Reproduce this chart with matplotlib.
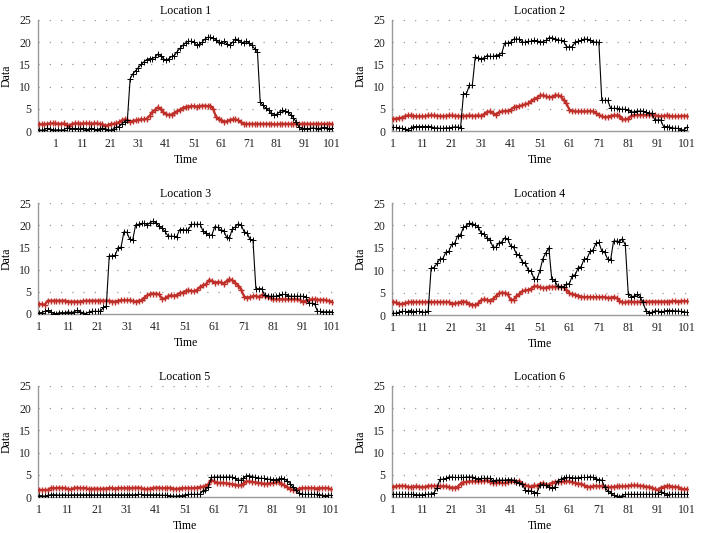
import numpy as np
import matplotlib
matplotlib.use("Agg")
import matplotlib.pyplot as plt

plt.rcParams["font.family"] = ["Liberation Serif", "DejaVu Serif"]

# time axes
time1 = list(range(-5, 102))
time = list(range(1, 102))

# Location 1 (starts a few steps before t=1)
black1 = [0.3, 0.2, 0.3, 0.6, 0.5, 0.3, 0.2, 0.3, 0.2, 0.3,
          0.6, 0.7, 0.5, 0.6, 0.4, 0.5, 0.6, 0.3, 0.4, 0.6,
          0.4, 0.3, 0.5, 0.6, 0.5, 0.3, 0.2, 0.5, 0.8, 1.0,
          1.6, 2.1, 2.5, 11.8, 12.9, 13.6, 14.3, 15.0, 15.6, 16.1,
          16.3, 16.3, 16.6, 17.3, 17.0, 16.3, 15.9, 16.3, 16.8, 17.0,
          17.9, 18.6, 19.3, 19.8, 20.2, 20.2, 20.1, 19.3, 19.5, 20.0,
          20.7, 21.1, 21.1, 21.0, 20.5, 20.0, 19.8, 20.2, 19.6, 19.3,
          20.0, 20.7, 20.6, 20.0, 19.8, 20.2, 19.8, 19.3, 18.5, 17.8,
          6.5, 5.8, 5.2, 4.7, 4.1, 3.5, 3.8, 4.3, 4.7, 4.5,
          4.2, 3.7, 3.0, 2.0, 0.9, 0.5, 0.6, 0.5, 0.6, 0.7,
          0.6, 0.5, 0.7, 0.8, 0.6, 0.5, 0.6]
red1 = [1.5, 1.5, 1.5, 1.6, 1.7, 1.7, 1.7, 1.6, 1.6, 1.7,
        1.3, 1.2, 1.6, 1.7, 1.7, 1.6, 1.7, 1.7, 1.7, 1.6,
        1.7, 1.7, 1.6, 1.5, 1.2, 1.3, 1.6, 1.6, 1.7, 2.0,
        2.4, 2.6, 2.5, 2.1, 2.3, 2.4, 2.5, 2.6, 2.6, 2.8,
        3.4, 4.3, 4.8, 5.3, 4.9, 4.2, 3.8, 3.6, 3.7, 4.1,
        4.5, 4.8, 5.2, 5.4, 5.5, 5.6, 5.6, 5.5, 5.6, 5.7,
        5.7, 5.6, 5.7, 5.0, 3.2, 2.8, 2.4, 2.1, 2.2, 2.5,
        2.6, 2.6, 2.4, 2.0, 1.6, 1.6, 1.6, 1.6, 1.6, 1.6,
        1.6, 1.6, 1.6, 1.6, 1.6, 1.5, 1.5, 1.6, 1.6, 1.6,
        1.6, 1.6, 1.6, 1.6, 1.6, 1.6, 1.6, 1.6, 1.6, 1.6,
        1.6, 1.6, 1.6, 1.6, 1.6, 1.6, 1.6]

black2 = [0.8, 0.8, 0.7, 0.6, 0.5, 0.3, 0.6, 1.0, 1.0, 1.0,
          1.0, 1.0, 1.0, 1.0, 0.7, 0.7, 0.6, 0.6, 0.7, 0.7,
          0.8, 0.9, 0.9, 0.7, 8.4, 8.4, 10.3, 10.3, 16.7, 16.5,
          16.2, 16.5, 17.0, 16.8, 16.8, 17.0, 17.2, 17.5, 19.8, 19.8,
          20.0, 20.7, 20.7, 20.7, 20.0, 20.0, 20.2, 20.2, 20.4, 20.3,
          20.1, 20.1, 20.4, 21.0, 21.0, 20.8, 20.6, 20.4, 20.3, 19.0,
          18.9, 19.0, 20.1, 20.2, 20.4, 20.7, 20.7, 20.4, 20.1, 20.0,
          20.0, 6.9, 6.9, 6.9, 5.1, 5.1, 5.1, 4.9, 4.9, 4.9,
          4.7, 4.3, 4.3, 4.5, 4.5, 4.5, 4.2, 4.0, 4.0, 2.5,
          2.5, 2.5, 1.0, 1.0, 0.9, 0.7, 0.6, 0.6, 0.2, 0.3, 0.9]
red2 = [2.7, 2.8, 2.9, 3.0, 3.3, 3.5, 3.5, 3.4, 3.3, 3.3,
        3.3, 3.3, 3.5, 3.5, 3.5, 3.4, 3.4, 3.3, 3.4, 3.5,
        3.5, 3.4, 3.4, 3.3, 3.4, 3.4, 3.5, 3.4, 3.4, 3.5,
        3.4, 3.8, 4.3, 4.4, 4.0, 3.6, 4.2, 4.4, 4.5, 4.5,
        4.8, 5.3, 5.5, 5.6, 5.8, 6.0, 6.2, 6.8, 7.2, 7.5,
        8.0, 8.0, 7.8, 7.6, 7.7, 8.0, 8.0, 7.8, 7.0, 6.2,
        4.8, 4.5, 4.4, 4.4, 4.4, 4.4, 4.4, 4.5, 4.4, 4.0,
        3.7, 3.3, 3.1, 3.2, 3.4, 3.5, 3.5, 3.4, 2.6, 2.6,
        2.8, 3.4, 3.6, 3.6, 3.6, 3.6, 3.6, 3.6, 3.6, 3.5,
        3.4, 3.3, 3.4, 3.5, 3.4, 3.3, 3.3, 3.3, 3.4, 3.4, 3.4]

black3 = [0.3, 0.3, 0.6, 0.8, 0.5, 0.1, 0.1, 0.3, 0.3, 0.3,
          0.5, 0.3, 0.5, 0.8, 0.5, 0.3, 0.1, 0.4, 0.6, 0.6,
          0.6, 0.6, 1.5, 1.8, 13.1, 13.1, 13.2, 14.9, 15.0, 18.5,
          18.4, 16.8, 16.7, 20.1, 20.2, 20.4, 20.4, 20.1, 20.6, 20.9,
          20.5, 19.8, 19.3, 18.6, 17.6, 17.5, 17.5, 17.4, 19.0, 19.0,
          18.9, 19.0, 20.2, 20.2, 20.2, 20.2, 18.6, 18.3, 17.7, 17.8,
          19.7, 19.5, 18.9, 18.8, 17.3, 17.2, 19.2, 19.6, 20.3, 20.0,
          18.5, 18.3, 16.8, 16.7, 5.7, 5.7, 5.7, 4.2, 4.0, 4.0,
          4.0, 4.0, 4.2, 4.4, 4.4, 4.1, 4.0, 4.0, 4.0, 4.0,
          4.0, 3.9, 2.4, 2.4, 2.3, 0.6, 0.6, 0.5, 0.5, 0.5, 0.5]
red3 = [2.2, 2.2, 2.1, 3.0, 3.0, 3.0, 3.0, 3.0, 3.0, 3.0,
        2.8, 2.8, 2.8, 2.8, 2.8, 2.9, 3.0, 3.0, 3.0, 3.0,
        3.0, 3.0, 3.0, 3.0, 3.0, 2.8, 2.8, 3.0, 3.1, 3.1,
        3.1, 3.1, 2.9, 2.8, 3.0, 3.1, 3.7, 4.2, 4.5, 4.6,
        4.6, 4.4, 3.4, 3.5, 4.0, 4.2, 4.1, 4.3, 4.7, 4.8,
        5.2, 5.3, 5.2, 5.1, 5.5, 6.1, 6.5, 6.7, 7.6, 7.5,
        7.0, 7.2, 7.1, 6.8, 7.4, 7.8, 7.6, 7.0, 6.4, 5.5,
        3.9, 3.7, 3.8, 4.0, 4.1, 3.8, 4.3, 4.0, 3.9, 3.6,
        3.3, 3.3, 3.3, 3.3, 3.3, 3.3, 3.3, 3.3, 3.3, 3.2,
        2.8, 3.0, 3.2, 3.3, 3.3, 3.2, 3.2, 3.2, 3.1, 2.9, 2.8]

black4 = [0.4, 0.4, 0.6, 0.8, 0.8, 0.7, 1.0, 0.7, 0.8, 0.8,
          0.7, 0.6, 0.9, 10.5, 10.6, 11.5, 12.5, 12.6, 14.0, 14.2,
          15.8, 16.0, 17.7, 17.9, 19.6, 19.9, 20.5, 20.4, 20.1, 19.7,
          18.2, 18.0, 17.2, 16.7, 15.2, 15.1, 16.1, 16.3, 17.2, 17.0,
          15.4, 15.1, 13.6, 13.4, 11.8, 11.6, 10.0, 9.8, 8.0, 8.0,
          10.0, 12.6, 13.9, 15.0, 8.0, 7.7, 6.4, 6.2, 6.3, 6.9,
          7.0, 8.8, 9.0, 10.6, 10.8, 12.5, 12.6, 14.2, 14.5, 16.0,
          16.2, 14.3, 14.0, 12.4, 12.3, 16.5, 16.5, 16.4, 17.0, 15.6,
          4.6, 4.1, 4.2, 4.6, 4.1, 2.8, 1.0, 0.5, 0.6, 0.9,
          0.9, 0.7, 0.8, 1.0, 1.0, 1.0, 0.9, 0.9, 0.8, 0.7, 0.6]
red4 = [2.9, 2.8, 2.4, 2.5, 2.6, 2.8, 2.9, 2.9, 2.9, 2.9,
        2.9, 2.9, 2.9, 2.9, 2.9, 2.9, 2.9, 2.9, 2.9, 2.9,
        2.5, 2.6, 2.7, 2.9, 3.0, 2.9, 2.5, 2.3, 2.2, 2.6,
        3.3, 3.5, 3.4, 3.2, 3.6, 4.2, 4.8, 5.0, 4.9, 4.7,
        3.4, 3.4, 4.2, 4.7, 5.3, 5.5, 5.6, 5.9, 6.4, 6.4,
        6.2, 6.0, 6.1, 6.3, 6.3, 6.3, 6.2, 6.3, 6.2, 5.6,
        4.9, 4.6, 4.5, 4.3, 4.1, 4.0, 4.0, 4.0, 4.0, 4.0,
        4.0, 4.0, 4.0, 3.8, 3.9, 4.0, 3.8, 3.2, 2.8, 2.8,
        3.0, 3.0, 2.9, 2.9, 3.0, 3.0, 3.0, 3.0, 3.0, 3.0,
        3.0, 3.0, 3.0, 3.0, 3.0, 3.1, 3.1, 3.0, 3.1, 3.1, 3.1]

black5 = [0.3, 0.3, 0.2, 0.4, 0.5, 0.5, 0.5, 0.4, 0.5, 0.5,
          0.4, 0.5, 0.5, 0.5, 0.5, 0.5, 0.5, 0.5, 0.5, 0.5,
          0.5, 0.5, 0.5, 0.5, 0.5, 0.5, 0.5, 0.5, 0.5, 0.5,
          0.5, 0.5, 0.5, 0.5, 0.6, 0.6, 0.5, 0.5, 0.5, 0.5,
          0.5, 0.5, 0.4, 0.4, 0.4, 0.3, 0.2, 0.2, 0.3, 0.3,
          0.5, 0.6, 0.6, 0.6, 0.6, 0.6, 1.3, 1.6, 2.2, 4.4,
          4.5, 4.5, 4.5, 4.5, 4.5, 4.5, 4.5, 4.3, 3.8, 3.8,
          4.2, 4.8, 4.8, 4.6, 4.4, 4.3, 4.2, 4.2, 4.0, 4.0,
          3.9, 3.9, 4.0, 4.2, 4.1, 3.6, 3.0, 2.2, 1.6, 0.8,
          0.6, 0.6, 0.6, 0.6, 0.6, 0.6, 0.5, 0.4, 0.3, 0.4, 0.4]
red5 = [1.6, 1.6, 1.6, 1.6, 2.0, 2.0, 2.0, 2.1, 2.0, 2.0,
        1.8, 1.7, 2.0, 2.1, 2.0, 2.0, 2.0, 1.8, 1.8, 1.9,
        1.9, 1.8, 1.9, 1.9, 2.0, 2.0, 1.9, 2.0, 2.0, 2.0,
        2.0, 2.0, 2.0, 2.1, 2.1, 2.0, 1.8, 1.8, 1.9, 2.0,
        2.1, 2.1, 2.0, 2.0, 2.0, 2.1, 1.9, 1.8, 1.9, 2.0,
        2.0, 2.0, 2.0, 2.0, 2.1, 2.2, 2.3, 2.4, 2.9, 3.8,
        3.5, 3.2, 3.2, 3.2, 3.1, 3.0, 2.9, 2.8, 2.6, 2.6,
        3.0, 3.5, 3.5, 3.4, 3.3, 3.2, 3.1, 3.0, 3.0, 3.1,
        3.1, 3.3, 3.4, 3.0, 2.6, 2.2, 1.8, 1.6, 1.6, 1.9,
        2.0, 2.0, 2.0, 2.0, 2.0, 1.9, 2.0, 2.0, 2.0, 2.0, 1.7]

black6 = [0.6, 0.6, 0.6, 0.6, 0.6, 0.6, 0.6, 0.6, 0.5, 0.5,
          0.5, 0.6, 0.6, 0.7, 1.0, 2.0, 4.0, 4.0, 4.2, 4.5,
          4.5, 4.4, 4.4, 4.4, 4.4, 4.5, 4.5, 4.5, 4.3, 4.0,
          4.2, 4.2, 4.2, 4.2, 3.6, 3.8, 3.8, 3.8, 3.8, 3.9,
          3.9, 3.8, 3.4, 3.2, 3.0, 1.5, 1.4, 1.4, 1.0, 1.0,
          2.7, 2.8, 2.6, 2.2, 2.0, 2.2, 3.6, 4.0, 4.3, 4.4,
          4.4, 4.3, 4.3, 4.3, 4.4, 4.4, 4.4, 4.6, 4.4, 4.1,
          3.9, 3.8, 2.2, 1.4, 1.0, 0.4, 0.2, 0.1, 0.3, 0.6,
          0.6, 0.6, 0.6, 0.6, 0.6, 0.6, 0.6, 0.6, 0.6, 0.6,
          0.7, 1.2, 1.0, 0.5, 0.6, 0.6, 0.6, 0.6, 0.6, 0.6, 0.6]
red6 = [2.3, 2.4, 2.5, 2.5, 2.5, 2.3, 2.2, 2.3, 2.4, 2.3,
        2.2, 2.3, 2.5, 2.5, 2.5, 2.5, 2.4, 2.4, 2.4, 2.2,
        2.1, 2.1, 2.3, 3.0, 3.3, 3.4, 3.5, 3.5, 3.5, 3.5,
        3.6, 3.6, 3.8, 3.4, 3.2, 3.2, 3.4, 3.2, 3.2, 3.3,
        3.5, 3.5, 3.4, 3.6, 3.0, 2.6, 2.5, 2.3, 2.6, 2.5,
        3.0, 3.1, 2.8, 2.8, 3.2, 3.4, 3.4, 3.4, 3.5, 3.5,
        3.5, 3.3, 3.2, 3.0, 3.0, 2.6, 2.3, 2.3, 2.4, 2.5,
        2.4, 2.5, 2.3, 2.3, 2.2, 2.3, 2.4, 2.4, 2.4, 2.4,
        2.5, 2.6, 2.6, 2.6, 2.5, 2.5, 2.3, 2.3, 2.1, 1.8,
        1.6, 2.1, 2.3, 2.5, 2.5, 2.3, 2.3, 2.2, 1.9, 1.7, 1.8]

titles = ["Location 1", "Location 2", "Location 3",
          "Location 4", "Location 5", "Location 6"]
xticks = list(range(1, 102, 10))
yticks = [0, 5, 10, 15, 20, 25]

panels = [(time1, black1, red1), (time, black2, red2), (time, black3, red3),
          (time, black4, red4), (time, black5, red5), (time, black6, red6)]

W, H = 702, 533
# axes boxes in pixels: left, top, right, bottom
boxes = [(38, 20, 333, 131), (392, 20, 688, 131),
         (38, 203, 333, 314), (392, 203, 688, 315),
         (38, 386, 332, 497), (392, 386, 688, 497)]

fig = plt.figure(figsize=(W / 100, H / 100), dpi=100)
red = "#c0302a"
grey = "#9a9a9a"

for i, (t, b, r) in enumerate(panels):
    l, tp, rt, bt = boxes[i]
    ax = fig.add_axes([l / W, 1 - bt / H, (rt - l) / W, (bt - tp) / H])
    ax.plot(t, r, color=red, lw=1.6, marker="+", ms=4, mew=1.0, zorder=3)
    ax.plot(t, b, color="black", lw=0.8, marker="+", ms=5, mew=0.7, zorder=4)
    ax.set_xlim(t[0] - 0.3, 101.3)
    ax.set_ylim(0, 25)
    ax.set_xticks(xticks)
    ax.set_yticks(yticks)
    for y in yticks[1:]:
        ax.axhline(y, color=grey, lw=0.9, ls=(0, (1, 8)), zorder=1)
    for s in ["top", "right"]:
        ax.spines[s].set_visible(False)
    for s in ["left", "bottom"]:
        ax.spines[s].set_color(grey)
        ax.spines[s].set_linewidth(1.0)
    ax.tick_params(length=0, labelsize=8.5, pad=5, colors="#222222")
    ax.set_title(titles[i], fontsize=8.5, pad=4)
    ax.set_xlabel("Time", fontsize=8.5, labelpad=3)
    ax.set_ylabel("Data", fontsize=8.5, labelpad=5)

fig.savefig("out.png", dpi=100)
